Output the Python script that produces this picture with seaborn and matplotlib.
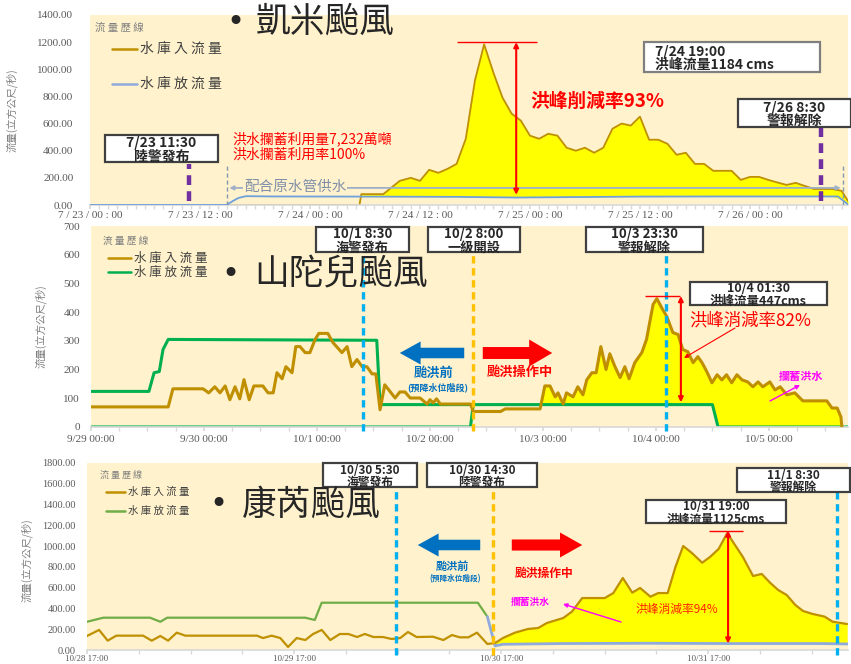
import matplotlib
matplotlib.use('Agg')
import matplotlib.pyplot as plt
from matplotlib.patches import Rectangle, FancyArrowPatch
from matplotlib.lines import Line2D
from matplotlib.ticker import MultipleLocator
import numpy as np
import seaborn as sns

# ---- 凱米颱風 (hours from 7/23 00:00) ----
kaemi_in_h = [0, 29.4, 29.6, 32, 33.8, 35, 36, 37, 38, 39, 40, 41, 42, 43, 44, 45, 46, 47, 48, 49,
              50, 51, 52, 53, 54, 55, 56, 57, 58, 59, 60, 61, 62, 63, 64, 65, 66, 67, 68, 69,
              70, 71, 72, 73, 74, 75, 76, 77, 78, 79, 80, 81, 82, 82.7]
kaemi_in = [0, 0, 80, 80, 178, 200, 178, 259, 237, 266, 303, 488, 918, 1184, 977, 792, 673, 622, 511, 488,
            525, 511, 422, 400, 422, 385, 422, 562, 600, 585, 651, 481, 481, 451, 370, 385, 303, 303, 252, 252,
            252, 185, 207, 207, 185, 166, 148, 163, 140, 118, 118, 118, 104, 30]
kaemi_out_h = [0, 14.9, 15.6, 16.2, 17, 20, 30, 40, 46.5, 52, 60, 70, 81.6, 82.7]
kaemi_out = [0, 0, 30, 52, 65, 63, 62, 60, 55, 58, 62, 63, 63, 5]
kaemi_ticks = ['7 / 23 / 00 : 00', '7 / 23 / 12 : 00', '7 / 24 / 00 : 00', '7 / 24 / 12 : 00',
               '7 / 25 / 00 : 00', '7 / 25 / 12 : 00', '7 / 26 / 00 : 00']
kaemi_events = [10.8, 79.7]

# ---- 山陀兒颱風 (hours from 9/29 00:00) ----
sanba_in_h = [0, 16.4, 17.4, 23.8, 25, 26.3, 27.4, 28.5, 29.5, 30.6,
              31.6, 32.5, 33.6, 34.6, 36.5, 37.6, 38.7, 39.5, 40.6, 41.4,
              42.7, 43.5, 44.4, 45.5, 46.5, 47.6, 48.4, 50.3, 51.4, 53.3,
              54.4, 55.4, 56.5, 57.6, 58.6, 59.7, 60.5, 61.4, 62.4, 64.6,
              65.6, 66.7, 67.8, 69.9, 71.4, 72, 72.7, 73.4, 74.2, 80.6,
              81.2, 87, 88, 95.4, 96.4, 97.5, 98.6, 99.2, 100.3, 101,
              102.4, 103.4, 104.5, 105.3, 106.4, 107.3, 108.3, 109.4, 110.2, 111.3,
              112.4, 113.4, 114.3, 115.5, 117, 118, 119.4, 120.2, 121.3, 122.3,
              123.6, 124.7, 125.7, 126.8, 127.9, 128.9, 129.8, 130.8, 131.9, 133,
              134, 135, 136.1, 137.2, 138.3, 139.5, 140.6, 141.7, 142.7, 144.2,
              145.3, 146.4, 147.8, 149.5, 151.2, 156.3, 157.4, 158.5, 159.3, 159.5]
sanba_in = [70, 70, 133, 133, 119, 140, 119, 143, 95, 140,
            98, 165, 95, 143, 143, 119, 119, 189, 168, 210,
            189, 280, 280, 259, 259, 305, 326, 326, 294, 259,
            280, 210, 235, 210, 210, 185, 185, 60, 147, 101,
            122, 122, 101, 101, 80, 95, 84, 98, 80, 80,
            54, 54, 63, 63, 143, 143, 105, 119, 80, 119,
            105, 140, 112, 164, 189, 189, 280, 200, 255, 210,
            172, 210, 168, 224, 259, 305, 427, 447, 413, 385,
            329, 322, 270, 262, 224, 245, 224, 193, 154, 182,
            164, 182, 154, 182, 164, 157, 140, 157, 140, 157,
            129, 140, 112, 119, 91, 91, 66, 66, 35, 0]
sanba_out_h = [0, 12.3, 13.4, 14.5, 15.3, 16.4, 60.7, 61.4, 80.6]
sanba_out = [124, 124, 189, 193, 270, 305, 302, 78, 78]
sanba_out2_h = [0, 80.6, 81.2, 132.0, 133.2, 160.8]
sanba_out2 = [0, 0, 78, 78, 0, 0]
sanba_ticks = ['9/29 00:00', '9/30 00:00', '10/1 00:00', '10/2 00:00', '10/3 00:00', '10/4 00:00', '10/5 00:00']
sanba_events = [57.8, 81.1, 122.1]

# ---- 康芮颱風 (hours from 10/28 17:00) ----
kong_in_h = [0, 1.4, 2.4, 3.4, 6.5, 7.5, 8.5, 9.4, 10.4, 11.4,
             19.7, 20.4, 21.4, 22.4, 23.3, 24.3, 25.3, 26.2, 27.2, 28.2,
             29.3, 30.3, 31.3, 32.2, 33.2, 34.3, 35.3, 36.3, 37.2, 38.2,
             40.1, 41.3, 42.3, 43.2, 44.2, 45.2, 46.4, 47.3, 48.2, 49.6,
             51.1, 52.3, 53.3, 55.2, 56.2, 57.4, 60, 61, 62.1, 63.2,
             64.1, 65.3, 66.2, 67.3, 68.2, 69.1, 70.1, 71.3, 72.2, 73.2,
             74.2, 75.1, 76, 77.2, 78.2, 79.2, 80.1, 81.1, 82.1, 83,
             84.1, 85.5, 86.4, 88.1]
kong_in = [135, 193, 90, 138, 138, 90, 135, 90, 167, 138,
           138, 115, 138, 115, 29, 115, 96, 154, 193, 96,
           154, 154, 125, 154, 125, 125, 106, 115, 173, 125,
           128, 96, 144, 122, 122, 167, 58, 67, 115, 167,
           202, 212, 260, 308, 369, 500, 500, 548, 693, 552,
           597, 513, 548, 548, 799, 1001, 934, 840, 895, 972,
           1125, 1011, 898, 712, 732, 645, 578, 529, 433, 375,
           347, 321, 273, 250]
kong_out_h = [0, 1.9, 7.3, 8.5, 9.3, 25.3, 26.4, 27.2, 45.3, 46.4]
kong_out = [272, 311, 311, 272, 311, 311, 289, 455, 455, 321]
kong_out2_h = [46.4, 47.3, 48.2, 55, 65, 75, 85, 88.2]
kong_out2 = [321, 40, 55, 62, 65, 62, 62, 58]
kong_ticks = ['10/28 17:00', '10/29 17:00', '10/30 17:00', '10/31 17:00']
kong_events = [35.8, 47.1, 86.9]

sns.set_theme(style='white')
plt.rcParams['font.family'] = ['Noto Sans CJK TC', 'DejaVu Sans']

W, H = 851, 664
CREAM = '#FFF2CC'
GOLD = '#BF9000'
GRAY = '#595959'
fig = plt.figure(figsize=(W / 100, H / 100), dpi=100)


def P(x, y):
    return x / W, 1 - y / H


def axes_at(x0, y0, x1, y1):
    return fig.add_axes([x0 / W, 1 - y1 / H, (x1 - x0) / W, (y1 - y0) / H])


def style(ax, xmax, ymax, ystep, yfmt, xstep, labels, minor, ypad, xpad, fs, xfs, ylab_xy):
    ax.set_facecolor(CREAM)
    ax.set_xlim(0, xmax)
    ax.set_ylim(0, ymax)
    for s in ['top', 'right', 'left']:
        ax.spines[s].set_visible(False)
    ax.spines['bottom'].set_color('#D9D9D9')
    yt = np.arange(0, ymax + 1, ystep)
    ax.set_yticks(yt)
    ax.set_yticklabels([yfmt.format(v) for v in yt])
    ax.set_xticks(np.arange(len(labels)) * xstep)
    ax.set_xticklabels(labels)
    ax.xaxis.set_minor_locator(MultipleLocator(minor))
    ax.tick_params(axis='y', left=False, length=0, pad=ypad, labelsize=fs, labelcolor=GRAY)
    ax.tick_params(axis='x', which='both', bottom=True, length=3, color='#D9D9D9',
                   pad=xpad, labelsize=xfs, labelcolor=GRAY)
    for lab in ax.get_xticklabels() + ax.get_yticklabels():
        lab.set_fontfamily('Liberation Serif')
    ax.set_xlabel('')
    ax.set_ylabel('流量(立方公尺/秒)', fontsize=7.5, color='#7F7F7F')
    ax.yaxis.set_label_coords(*ylab_xy)


def box(x0, y0, x1, y1, text, fs=10, ec='#404040', left=None):
    fig.add_artist(Rectangle(P(x0, y1), (x1 - x0) / W, (y1 - y0) / H, transform=fig.transFigure,
                             facecolor='white', edgecolor=ec, lw=1.6, zorder=5))
    xt, ha = ((x0 + x1) / 2, 'center') if left is None else (left, 'left')
    fig.text(*P(xt, (y0 + y1) / 2 + 1.5), text, ha=ha, va='center', fontsize=fs,
             fontweight='bold', linespacing=0.92, zorder=6)


def title(xb, xt, y, text):
    fig.text(*P(xb, y), '•', fontsize=22, family='DejaVu Sans', ha='center', va='center', zorder=6)
    fig.text(*P(xt, y), text, fontsize=25, ha='left', va='center', zorder=6)


def legend(xt, yt, x0, x1, ys, colors, fs, tfs):
    fig.text(*P(xt, yt), '流 量 歷 線', fontsize=tfs, color='#7F7F7F', va='center', zorder=6)
    for y, c, lab in zip(ys, colors, ['水 庫 入 流 量', '水 庫 放 流 量']):
        fig.add_artist(Line2D([x0 / W, x1 / W], [1 - y / H] * 2, transform=fig.transFigure, color=c, lw=1.8))
        fig.text(*P(x1 + 3, y), lab, fontsize=fs, color='#404040', va='center', zorder=6)


def block_arrow(xtail, xtip, y, color, hw, tw, hl):
    fig.add_artist(FancyArrowPatch(P(xtail, y), P(xtip, y), transform=fig.transFigure,
                                   arrowstyle=f'simple,head_length={hl},head_width={hw},tail_width={tw}',
                                   mutation_scale=10, color=color, lw=0, zorder=6))


def thin_arrow(xa, ya, xb, yb, color, lw=1.0):
    fig.add_artist(FancyArrowPatch(P(xa, ya), P(xb, yb), transform=fig.transFigure, arrowstyle='-|>',
                                   mutation_scale=6, color=color, lw=lw, shrinkA=0, shrinkB=0, zorder=6))


def peak(ax, x0, x1, xa, ytop, ybot):
    ax.hlines(ytop, x0, x1, color='red', lw=1.0, zorder=5)
    ax.annotate('', xy=(xa, ytop), xytext=(xa, ybot),
                arrowprops=dict(arrowstyle='<|-|>', color='red', lw=1.5, mutation_scale=7,
                                shrinkA=0, shrinkB=0), zorder=5)


def vline(ax, x, y0, y1, color, lw=2.4):
    ax.plot([x, x], [y0, y1], color=color, lw=lw, ls=(0, (2.2, 1.4)), clip_on=False, zorder=4)


# ================= panel 1 =================
ax1 = axes_at(90, 15, 848, 205)
t = np.array(kaemi_in_h)
v = np.array(kaemi_in)
o = np.interp(t, kaemi_out_h, kaemi_out)
ax1.fill_between(t, v, o, where=v > o, color='#FFFF00', lw=0, interpolate=True, zorder=1)
sns.lineplot(x=kaemi_in_h, y=kaemi_in, ax=ax1, color=GOLD, lw=1.3, zorder=2)
sns.lineplot(x=kaemi_out_h, y=kaemi_out, ax=ax1, color='#6FA0DC', lw=1.3, zorder=3)
style(ax1, 82.7, 1400, 200, '{:.2f}', 12, kaemi_ticks, 1, 12, 1, 8, 8, (-0.095, 0.5))
for ev, ytop in zip(kaemi_events, [300, 570]):
    vline(ax1, ev, 30, ytop, '#7030A0', lw=3.2)
for xg in [14.9, 82.2]:
    ax1.plot([xg, xg], [0, 290], color='#8497B0', lw=1, ls=(0, (3, 2)), zorder=3)
ax1.annotate('', xy=(15.2, 126), xytext=(81.9, 126),
             arrowprops=dict(arrowstyle='<|-|>', color='#9FB0C8', lw=1.3, mutation_scale=6,
                             shrinkA=0, shrinkB=0), zorder=3)
fig.text(*P(244, 187), '配合原水管供水', fontsize=10.5, color='#7F8FA8', va='center', zorder=6,
         bbox=dict(facecolor=CREAM, edgecolor='none', pad=0.5))
peak(ax1, 40.0, 48.8, 46.5, 1200, 75)
title(235, 256, 22, '凱米颱風')
legend(95, 28, 112, 137, [49, 84], [GOLD, '#8FAADC'], 10, 7.5)
box(105, 135, 218, 162, '7/23 11:30\n陸警發布', fs=10)
box(644, 42, 820, 72, '7/24 19:00\n洪峰流量1184 cms', fs=10, ec='#7F7F7F', left=655)
box(738, 99, 851, 127, '7/26 8:30\n警報解除', fs=10)
fig.text(*P(232, 139), '洪水攔蓄利用量7,232萬噸', fontsize=10, color='red', va='center')
fig.text(*P(232, 155), '洪水攔蓄利用率100%', fontsize=10, color='red', va='center')
fig.text(*P(530, 101), '洪峰削減率93%', fontsize=13.5, color='red', va='center', fontweight='bold')

# ================= panel 2 =================
ax2 = axes_at(91, 226, 848, 427)
t = np.array(sanba_in_h)
v = np.array(sanba_in)
o = np.interp(t, sanba_out2_h, sanba_out2)
ax2.fill_between(t, v, o, where=(t >= 95.4) & (v >= o), color='#FFFF00', lw=0, interpolate=True, zorder=1)
sns.lineplot(x=sanba_out_h, y=sanba_out, ax=ax2, color='#00B050', lw=2.2, zorder=2)
sns.lineplot(x=sanba_out2_h, y=sanba_out2, ax=ax2, color='#00B050', lw=2.2, zorder=2)
sns.lineplot(x=sanba_in_h, y=sanba_in, ax=ax2, color='#BF8F00', lw=2.2, zorder=3)
style(ax2, 160.8, 700, 100, '{:.0f}', 24, sanba_ticks, 6, 8, 3, 8, 8, (-0.059, 0.5))
for ev, c in zip(sanba_events, ['#00B0F0', '#FFC000', '#00B0F0']):
    vline(ax2, ev, -15, 612, c)
peak(ax2, 117.7, 125.1, 125.3, 456, 86)
title(230, 254, 275, '山陀兒颱風')
legend(103, 241, 108, 131, [258, 272], ['#BF8F00', '#00B050'], 9, 7)
box(316, 227, 409, 252, '10/1 8:30\n海警發布', fs=9.5)
box(428, 227, 520, 252, '10/2 8:00\n一級開設', fs=9.5)
box(586, 227, 703, 252, '10/3 23:30\n警報解除', fs=9.5)
box(690, 282, 827, 305, '10/4 01:30\n洪峰流量447cms', fs=9)
fig.text(*P(689, 320), '洪峰消減率82%', fontsize=12.5, color='red', va='center')
thin_arrow(735, 328, 684, 358, 'red', lw=0.8)
fig.text(*P(801, 376), '攔蓄洪水', fontsize=8, color='#FF00FF', ha='center', va='center', fontweight='bold')
thin_arrow(770, 401, 800, 385, '#FF00FF', lw=1.0)
block_arrow(467, 397, 353, '#0070C0', 1.66, 0.76, 1.5)
block_arrow(480, 555, 353, '#FF0000', 1.94, 0.86, 1.66)
fig.text(*P(433, 373), '颱洪前', fontsize=9.5, color='#0070C0', ha='center', va='center', fontweight='bold')
fig.text(*P(438, 387), '(預降水位階段)', fontsize=6.5, color='#0070C0', ha='center', va='center', fontweight='bold')
fig.text(*P(520, 372), '颱洪操作中', fontsize=9.5, color='red', ha='center', va='center', fontweight='bold')

# ================= panel 3 =================
ax3 = axes_at(87, 463, 848, 650)
t = np.array(kong_in_h)
v = np.array(kong_in)
o = np.interp(t, kong_out2_h, kong_out2)
ax3.fill_between(t, v, o, where=(t >= 47.3) & (v >= o), color='#FFFF00', lw=0, interpolate=True, zorder=1)
sns.lineplot(x=kong_out_h, y=kong_out, ax=ax3, color='#70AD47', lw=1.6, zorder=2)
sns.lineplot(x=kong_out2_h, y=kong_out2, ax=ax3, color='#8FAADC', lw=2.0, zorder=2)
sns.lineplot(x=kong_in_h, y=kong_in, ax=ax3, color='#BF9000', lw=1.6, zorder=3)
style(ax3, 88.2, 1800, 200, '{:.2f}', 24, kong_ticks, 6, 8, 0.5, 7.5, 6.5, (-0.071, 0.48))
for ev, c, ytop in zip(kong_events, ['#00B0F0', '#FFC000', '#00B0F0'], [1570, 1570, 1540]):
    vline(ax3, ev, -45, ytop, c)
peak(ax3, 72.1, 76.0, 74.3, 1150, 62)
title(218, 242, 505, '康芮颱風')
legend(100, 475, 106, 125, [492, 511], [GOLD, '#70AD47'], 7.5, 6.5)
box(323, 463, 417, 487, '10/30 5:30\n海警發布', fs=8.5)
box(427, 463, 537, 487, '10/30 14:30\n陸警發布', fs=8.5)
box(737, 468, 850, 492, '11/1 8:30\n警報解除', fs=8.5)
box(646, 500, 786, 523, '10/31 19:00\n洪峰流量1125cms', fs=8.5)
fig.text(*P(677, 609), '洪峰消減率94%', fontsize=8.5, color='#FF2000', ha='center', va='center')
fig.text(*P(530, 602), '攔蓄洪水', fontsize=7, color='#FF00FF', ha='center', va='center', fontweight='bold')
thin_arrow(621, 622, 563, 604, '#FF00FF', lw=1.0)
block_arrow(483, 415, 545, '#0070C0', 1.66, 0.76, 1.5)
block_arrow(509, 585, 545, '#FF0000', 1.8, 0.8, 1.6)
fig.text(*P(452, 566), '颱洪前', fontsize=8, color='#0070C0', ha='center', va='center', fontweight='bold')
fig.text(*P(455, 579), '(預降水位階段)', fontsize=5.5, color='#0070C0', ha='center', va='center', fontweight='bold')
fig.text(*P(544, 573), '颱洪操作中', fontsize=8.5, color='red', ha='center', va='center', fontweight='bold')

fig.savefig('out.png', dpi=100, facecolor='white')
